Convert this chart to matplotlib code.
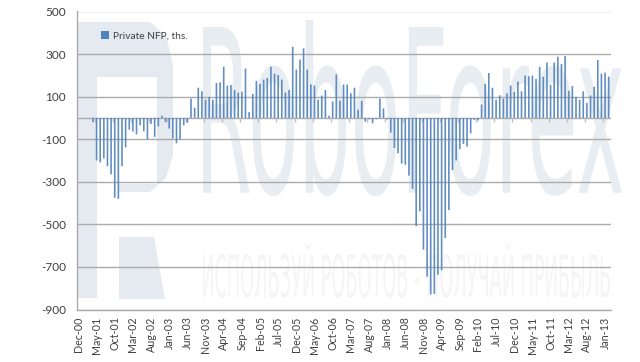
import matplotlib
matplotlib.use("Agg")
import matplotlib.pyplot as plt
from matplotlib.patches import Polygon
from matplotlib.text import Text
from matplotlib.textpath import TextPath
from matplotlib.font_manager import FontProperties
from matplotlib.transforms import Affine2D, Bbox

months = ['Jan','Feb','Mar','Apr','May','Jun','Jul','Aug','Sep','Oct','Nov','Dec']
categories = ['Dec-00']
for yy in range(1, 13):
    categories += [f'{m}-{yy:02d}' for m in months]
categories += ['Jan-13', 'Feb-13']

# first four months carry no bar in the source
values = [0, 0, 0, 0,
    -20,
    -200, -208, -190, -227, -265, -375, -380, -227, -138, -55, -64, -77, -35, -63, -100,
    -28, -89, -40, 10, -20, -50, -97, -119, -100, -35, -22,
    91, 48, 142, 125, 86, 99, 86, 164, 167, 241, 152, 155, 131, 119, 124, 232, 27, 113,
    174, 160, 180, 188, 241, 208, 202, 180, 119, 131, 334, 227, 274, 327, 227, 157, 152,
    86, 105, 131, 10, 77, 205, 81, 157, 157, 116, 142, 39, 81, -17, -6, -25, -6, 91, 45,
    -6, -69, -141, -166, -215, -220, -271, -333, -508, -439, -619, -746, -829, -827, -737,
    -716, -564, -433, -245, -200, -147, -122, -135, -73, -9, -12, 63, 160, 211, 142, 86,
    106, 91, 116, 152, 122, 171, 125, 199, 196, 199, 183, 240, 193, 260, 155, 260, 288,
    254, 291, 127, 150, 99, 85, 125, 70, 105, 146, 272, 208, 213, 194]

y_ticks = [500, 300, 100, -100, -300, -500, -700, -900]
series_name = 'Private NFP, ths.'
watermark_word = 'RoboForex'
watermark_slogan = 'ИСПОЛЬЗУЙ РОБОТОВ - ПОЛУЧАЙ ПРИБЫЛЬ'

W, H = 640, 362
GRID = '#ABABAB'
BAR = '#4F81BD'
TXT = '#404040'
PALE = '#E4EAEF'

plt.rcParams['font.family'] = ['Lato', 'DejaVu Sans']
plt.rcParams['axes.unicode_minus'] = False
fig = plt.figure(figsize=(W / 100, H / 100), dpi=100)
fig.patch.set_facecolor('white')


class StretchedText(Text):
    """Real text artist fitted to a pixel box (the watermark is stretched)."""
    def __init__(self, box, string, family, **kw):
        super().__init__(box[0] / W, 1 - box[3] / H, string,
                         transform=fig.transFigure, **kw)
        self._box = box
        self._family = family

    def get_window_extent(self, renderer=None, dpi=None):
        x0, y0, x1, y1 = self._box
        return Bbox([[x0, H - y1], [x1, H - y0]])

    def draw(self, renderer):
        x0, y0, x1, y1 = self._box
        tp = TextPath((0, 0), self.get_text(), size=100,
                      prop=FontProperties(family=self._family))
        bb = tp.get_extents()
        tr = (Affine2D().translate(-bb.x0, -bb.y0)
              .scale((x1 - x0) / bb.width, (y1 - y0) / bb.height)
              .translate(x0, H - y1))
        gc = renderer.new_gc()
        gc.set_linewidth(0)
        renderer.draw_path(gc, tp, tr, matplotlib.colors.to_rgba(self.get_color()))
        gc.restore()


bg = fig.add_axes([0, 0, 1, 1], zorder=0)
bg.set_xlim(0, W)
bg.set_ylim(H, 0)
bg.axis('off')
# logo "P"
bg.add_patch(Polygon([(77, 22), (150, 22), (166, 36), (173, 65), (173, 155), (166, 178),
                      (150, 192), (119, 192), (119, 184), (157, 184), (157, 77),
                      (97, 77), (97, 298), (77, 298)], fc=PALE, ec='none'))
bg.add_patch(Polygon([(119, 237), (154, 237), (165, 299), (119, 299)], fc=PALE, ec='none'))
fig.add_artist(StretchedText((203, 20, 622, 196), watermark_word, 'Liberation Sans Narrow',
                             color='#E8EDF1', zorder=0.5))
fig.add_artist(StretchedText((203, 243, 610, 298), watermark_slogan, 'Liberation Sans Narrow',
                             color='#F5F5F5', zorder=0.5))

x0, x1, ytop, ybot = 76.6, 610.5, 11.5, 309.5
ax = fig.add_axes([x0 / W, 1 - ybot / H, (x1 - x0) / W, (ybot - ytop) / H], zorder=1)
ax.patch.set_alpha(0)
pos = list(range(len(categories)))
bars = ax.bar(pos, values, width=0.45, color=BAR, alpha=0.9, label=series_name, zorder=3)
for b in bars:
    b.set_snap(False)
ax.set_xlim(-0.5, len(categories) - 0.5)
ax.set_ylim(-900, 500)
ax.set_yticks(y_ticks)
ax.yaxis.grid(True, color=GRID, lw=1.0)
ax.set_axisbelow(True)
ax.axhline(0, color=GRID, lw=1.0, zorder=2)
for s in ['top', 'right']:
    ax.spines[s].set_visible(False)
for s in ['left', 'bottom']:
    ax.spines[s].set_color(GRID)
    ax.spines[s].set_linewidth(1.0)
ax.tick_params(axis='y', length=0, labelsize=8.5, labelcolor=TXT, pad=7.5)
ax.set_xticks(pos[::5])
ax.set_xticklabels(categories[::5], rotation=90, fontsize=7.7, color=TXT)
ax.tick_params(axis='x', length=0, pad=5)
# tick marks sit on the zero line, as in the source
ax.vlines([p - 0.5 for p in pos[::5]], -20, 0, color='#C0C0C0', lw=1.0, zorder=2)

leg = ax.legend(loc='upper left', bbox_to_anchor=(0.028, 0.965), frameon=False, fontsize=7.3,
                handlelength=0.8, handleheight=0.8, handletextpad=0.45, labelcolor=TXT)
for h in leg.legend_handles:
    h.set_alpha(1)

fig.savefig('out.png', dpi=100, facecolor='white')
